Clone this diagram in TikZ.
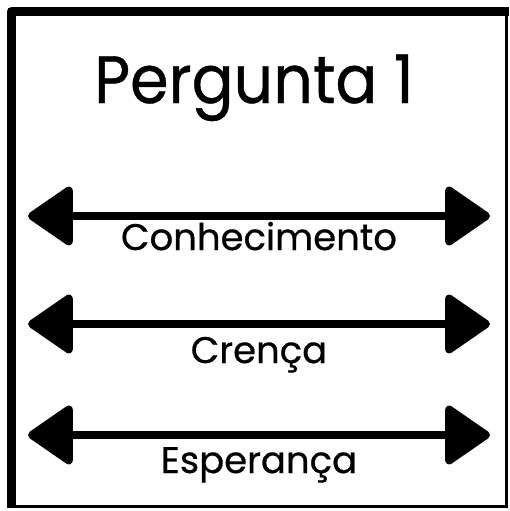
\documentclass[tikz,border=0pt]{standalone}
\usepackage{fontspec}
\setmainfont[FakeBold=0.6]{Poppins}
\newfontfamily\titlefont[FakeBold=0.6,FakeStretch=0.925]{Poppins}
\usetikzlibrary{arrows.meta}

\begin{document}
\begin{tikzpicture}[x=1pt,y=-1pt,
  biarrow/.style={line width=8pt,{Triangle[length=48pt,width=64pt,round]}-{Triangle[length=48pt,width=64pt,round]}},
  lbl/.style={inner sep=0pt,anchor=base,font=\fontsize{37}{40}\selectfont}]
\useasboundingbox (0,0) rectangle (510,511);
\draw [line width=9pt,line join=round] (11.5,508) -- (11.5,11.5) -- (509,11.5);
\draw [line width=3pt] (506.5,11.5) -- (506.5,506.5) -- (11.5,506.5);
\node [inner sep=0pt,anchor=base,font=\titlefont\fontsize{67}{70}\selectfont] (title) at (254,103) {Pergunta 1};
\foreach \y/\b/\txt/\n in {216/250/Conhecimento/1,324/363/Crença/2,435/473/Esperança/3} {
  \coordinate (l\n) at (28,\y);
  \coordinate (r\n) at (490,\y);
  \draw [biarrow] (l\n) -- (r\n);
  \node [lbl] (t\n) at (259,\b) {\txt};
}
\end{tikzpicture}
\end{document}
